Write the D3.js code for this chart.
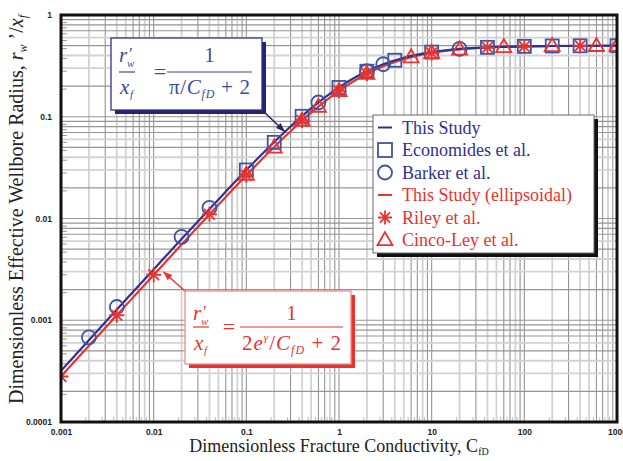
<!DOCTYPE html>
<html>
<head>
<meta charset="utf-8">
<script src="https://cdn.jsdelivr.net/npm/d3@7"></script>
<style>
  body { margin: 0; background: #fff; }
  svg { display: block; }
</style>
</head>
<body>
<svg id="chart"></svg>
<script>
// ---- data ----
const xTicks = [0.001, 0.01, 0.1, 1, 10, 100, 1000];
const yTicks = [0.0001, 0.001, 0.01, 0.1, 1];

// this study curves (sampled along the drawn lines)
const lineC         = [0.001, 0.002, 0.005, 0.01, 0.02, 0.05, 0.1, 0.2, 0.3, 0.5, 0.7, 1, 1.5, 2, 3, 5, 7, 10, 15, 20, 30, 50, 100, 200, 500, 1000];
const thisStudy     = [0.000318, 0.000636, 0.00159, 0.00316, 0.00629, 0.0154, 0.0299, 0.0565, 0.0802, 0.1207, 0.1541, 0.1945, 0.2442, 0.280, 0.3282, 0.3805, 0.4084, 0.4321, 0.4526, 0.4636, 0.4751, 0.4848, 0.4923, 0.4961, 0.4984, 0.4992];
const thisStudyEll  = [0.000281, 0.000561, 0.00140, 0.00279, 0.00555, 0.01365, 0.0266, 0.0505, 0.0721, 0.1096, 0.1411, 0.1798, 0.2286, 0.2645, 0.3137, 0.3687, 0.3986, 0.4244, 0.4469, 0.4591, 0.4720, 0.4828, 0.4912, 0.4956, 0.4982, 0.4991];

const economidesC = [0.1, 0.2, 0.4, 1, 2, 4, 10, 40, 100, 200, 400, 1000];
const economidesR = [0.030, 0.056, 0.101, 0.194, 0.280, 0.359, 0.432, 0.481, 0.492, 0.496, 0.498, 0.499];

const barkerC = [0.002, 0.004, 0.02, 0.04, 0.6, 2, 3, 20];
const barkerR = [0.00068, 0.00135, 0.0066, 0.0127, 0.138, 0.280, 0.328, 0.464];

const rileyC = [0.001, 0.004, 0.01, 0.04, 0.1, 0.4, 1, 2, 10, 40, 100, 400];
const rileyR = [0.00028, 0.00112, 0.0028, 0.011, 0.0266, 0.092, 0.180, 0.265, 0.424, 0.479, 0.491, 0.498];

const cincoC = [0.1, 0.2, 0.4, 0.6, 1, 2, 6, 10, 20, 60, 200, 600, 1000];
const cincoR = [0.027, 0.050, 0.092, 0.126, 0.180, 0.265, 0.386, 0.424, 0.459, 0.486, 0.496, 0.4985, 0.499];

const legendNames = ['This Study', 'Economides et al.', 'Barker et al.', 'This Study (ellipsoidal)', 'Riley et al.', 'Cinco-Ley et al.'];

// ---- layout ----
const W = 623, H = 461;
const margin = {top: 15, right: 6, bottom: 39, left: 61};
const NAVY = '#2e3192', BLUE = '#3a55a6', RED = '#e8332f';
const SERIF = '"Liberation Serif", "Times New Roman", serif';
const SANS = '"Liberation Sans", Arial, sans-serif';

const svg = d3.select('#chart').attr('width', W).attr('height', H);

const x = d3.scaleLog().domain([0.001, 1000]).range([margin.left, W - margin.right]);
const y = d3.scaleLog().domain([0.0001, 1]).range([H - margin.bottom, margin.top]);

// grid (two tones, like the scanned original)
const xDark = [1, 3, 6, 7, 9], yDark = [1, 2, 5, 7, 8, 9];
const grid = svg.append('g');
const xs = [], ys = [];
xTicks.slice(0, -1).forEach(d => d3.range(1, 10).forEach(m => xs.push({v: d * m, m: m})));
yTicks.slice(0, -1).forEach(d => d3.range(1, 10).forEach(m => ys.push({v: d * m, m: m})));

grid.selectAll('.gx').data(xs).join('line')
    .attr('x1', d => x(d.v)).attr('x2', d => x(d.v))
    .attr('y1', y(1)).attr('y2', y(0.0001))
    .attr('stroke', d => xDark.includes(d.m) ? '#959595' : '#d2d2d2')
    .attr('stroke-width', d => xDark.includes(d.m) ? 1.1 : 1.8);

grid.selectAll('.gy').data(ys).join('line')
    .attr('y1', d => y(d.v)).attr('y2', d => y(d.v))
    .attr('x1', x(0.001)).attr('x2', x(1000))
    .attr('stroke', d => yDark.includes(d.m) ? '#959595' : '#d2d2d2')
    .attr('stroke-width', d => yDark.includes(d.m) ? 1.1 : 1.8);

// small inner ticks on left and bottom
grid.selectAll('.ty').data(ys.filter(d => d.m > 1)).join('line')
    .attr('x1', x(0.001)).attr('x2', x(0.001) + 6)
    .attr('y1', d => y(d.v) + 3).attr('y2', d => y(d.v) + 3)
    .attr('stroke', '#999').attr('stroke-width', 1);
grid.selectAll('.tx').data(xs.filter(d => d.m > 1)).join('line')
    .attr('y1', y(0.0001)).attr('y2', y(0.0001) - 5)
    .attr('x1', d => x(d.v) - 3).attr('x2', d => x(d.v) - 3)
    .attr('stroke', '#bbb').attr('stroke-width', 1);

// axes (labels only)
const xAxis = d3.axisBottom(x).tickValues(xTicks).tickFormat(d => String(d)).tickSize(0).tickPadding(7);
const yAxis = d3.axisLeft(y).tickValues(yTicks).tickFormat(d => String(d)).tickSize(0).tickPadding(9);
svg.append('g').attr('transform', `translate(0,${y(0.0001)})`).call(xAxis)
    .call(g => g.select('.domain').remove());
svg.append('g').attr('transform', `translate(${x(0.001)},0)`).call(yAxis)
    .call(g => g.select('.domain').remove());
svg.selectAll('.tick text').attr('font-family', SANS).attr('font-size', 8.5)
    .attr('font-weight', 'bold').attr('fill', '#222');

// clip to plot area
svg.append('clipPath').attr('id', 'clip').append('rect')
    .attr('x', x(0.001)).attr('y', y(1))
    .attr('width', x(1000) - x(0.001)).attr('height', y(0.0001) - y(1));
const plot = svg.append('g').attr('clip-path', 'url(#clip)');

const line = d3.line().x(d => x(d[0])).y(d => y(d[1])).curve(d3.curveMonotoneX);
plot.append('path').datum(d3.zip(lineC, thisStudyEll)).attr('d', line)
    .attr('fill', 'none').attr('stroke', RED).attr('stroke-width', 2.2);
plot.append('path').datum(d3.zip(lineC, thisStudy)).attr('d', line)
    .attr('fill', 'none').attr('stroke', NAVY).attr('stroke-width', 2.2);

// marker shapes
function drawSquare(g, s) { g.append('rect').attr('x', -s / 2).attr('y', -s / 2).attr('width', s).attr('height', s)
    .attr('fill', 'none').attr('stroke', BLUE).attr('stroke-width', 1.8); }
function drawCircle(g, s) { g.append('circle').attr('r', s / 2)
    .attr('fill', 'none').attr('stroke', BLUE).attr('stroke-width', 1.8); }
function drawTriangle(g, s) { const h = s * 0.87;
    g.append('path').attr('d', `M0,${-h * 0.6}L${s / 2},${h * 0.4}L${-s / 2},${h * 0.4}Z`)
    .attr('fill', 'none').attr('stroke', RED).attr('stroke-width', 1.8); }
function drawStar(g, s) { const a = s / 2, b = s * 0.36;
    g.append('path').attr('d', `M${-a},0L${a},0M0,${-a}L0,${a}M${-b},${-b}L${b},${b}M${-b},${b}L${b},${-b}`)
    .attr('fill', 'none').attr('stroke', RED).attr('stroke-width', 1.8); }

function markers(cs, rs, fn, s) {
    plot.append('g').selectAll('g').data(d3.zip(cs, rs)).join('g')
        .attr('transform', d => `translate(${x(d[0])},${y(d[1])})`)
        .each(function () { fn(d3.select(this), s); });
}
markers(economidesC, economidesR, drawSquare, 13);
markers(barkerC, barkerR, drawCircle, 14);
markers(cincoC, cincoR, drawTriangle, 15);
markers(rileyC, rileyR, drawStar, 15);

// frame
svg.append('rect').attr('x', x(0.001)).attr('y', y(1))
    .attr('width', x(1000) - x(0.001)).attr('height', y(0.0001) - y(1))
    .attr('fill', 'none').attr('stroke', '#111').attr('stroke-width', 3);

// legend
const lg = svg.append('g').attr('transform', 'translate(373,115)');
lg.append('rect').attr('x', 4).attr('y', 4).attr('width', 221).attr('height', 138).attr('fill', '#111');
lg.append('rect').attr('width', 221).attr('height', 138).attr('fill', '#fff').attr('stroke', '#666').attr('stroke-width', 1);
const legendDraw = [
    g => g.append('line').attr('x1', -7).attr('x2', 7).attr('stroke', NAVY).attr('stroke-width', 2),
    g => drawSquare(g, 14), g => drawCircle(g, 14),
    g => g.append('line').attr('x1', -7).attr('x2', 7).attr('stroke', RED).attr('stroke-width', 2),
    g => drawStar(g, 14), g => drawTriangle(g, 15)
];
legendNames.forEach((name, i) => {
    const row = lg.append('g').attr('transform', `translate(12,${12.5 + i * 22.5})`);
    legendDraw[i](row);
    row.append('text').attr('x', 17).attr('y', 6).text(name)
        .attr('font-family', SERIF).attr('font-size', 18)
        .attr('fill', i < 3 ? NAVY : RED);
});

// formula boxes
function formulaBox(o) {
    const g = svg.append('g');
    g.append('line').attr('x1', o.from[0]).attr('y1', o.from[1]).attr('x2', o.to[0]).attr('y2', o.to[1])
        .attr('stroke', o.shadow).attr('stroke-width', 1.5);
    const ang = Math.atan2(o.to[1] - o.from[1], o.to[0] - o.from[0]);
    const hl = 9, hw = 3.5;
    const p = [[o.to[0], o.to[1]],
        [o.to[0] - hl * Math.cos(ang) + hw * Math.sin(ang), o.to[1] - hl * Math.sin(ang) - hw * Math.cos(ang)],
        [o.to[0] - hl * Math.cos(ang) - hw * Math.sin(ang), o.to[1] - hl * Math.sin(ang) + hw * Math.cos(ang)]];
    g.append('path').attr('d', d3.line()(p) + 'Z').attr('fill', o.shadow);
    g.append('rect').attr('x', o.box[0] + 4).attr('y', o.box[1] + 4).attr('width', o.box[2]).attr('height', o.box[3]).attr('fill', o.shadow);
    g.append('rect').attr('x', o.box[0]).attr('y', o.box[1]).attr('width', o.box[2]).attr('height', o.box[3])
        .attr('fill', '#fff').attr('stroke', o.border).attr('stroke-width', 1.3);
    const t = (xx, yy, s, size, anchor) => g.append('text').attr('x', xx).attr('y', yy).text(s)
        .attr('font-family', SERIF).attr('font-style', 'italic').attr('font-size', size)
        .attr('fill', o.color).attr('text-anchor', anchor || 'start');
    // left fraction r'_w / x_f
    t(o.lx - 8, o.numY, 'r', 21);
    t(o.lx + 1, o.numY - 3, '\u2032', 17);
    t(o.lx, o.numY + 5, 'w', 11);
    g.append('line').attr('x1', o.lx - 8).attr('x2', o.lx + 8).attr('y1', o.barY).attr('y2', o.barY)
        .attr('stroke', o.color).attr('stroke-width', 1.2);
    t(o.lx - 7, o.denY, 'x', 21);
    t(o.lx + 3, o.denY + 4, 'f', 11);
    t(o.eqX, o.barY + 7, '=', 22, 'middle').attr('font-style', 'normal');
    // right fraction
    t((o.bx0 + o.bx1) / 2, o.numY, '1', 21, 'middle').attr('font-style', 'normal');
    g.append('line').attr('x1', o.bx0).attr('x2', o.bx1).attr('y1', o.barY).attr('y2', o.barY)
        .attr('stroke', o.color).attr('stroke-width', 1.2);
    const den = t((o.bx0 + o.bx1) / 2, o.denY, '', 21, 'middle');
    o.denom(den);
    den.attr('textLength', o.bx1 - o.bx0 - 4).attr('lengthAdjust', 'spacing');
}

formulaBox({
    box: [111, 38, 151, 72], border: NAVY, shadow: '#24246e', color: '#3b4a9e',
    from: [262, 110], to: [x(0.26), y(0.0713)],
    lx: 127, numY: 62, barY: 72, denY: 94, eqX: 160, bx0: 167, bx1: 252,
    denom: d => {
        d.append('tspan').text('\u03c0').attr('font-style', 'normal');
        d.append('tspan').text('/').attr('font-style', 'normal');
        d.append('tspan').text('C');
        d.append('tspan').text('fD').attr('font-size', 12).attr('dy', 4);
        d.append('tspan').text(' + 2').attr('font-style', 'normal').attr('dy', -4);
    }
});

formulaBox({
    box: [185, 291, 166, 73], border: '#f08a88', shadow: RED, color: RED,
    from: [185, 291], to: [x(0.0127), y(0.00300)],
    lx: 201, numY: 320, barY: 327, denY: 350, eqX: 229, bx0: 240, bx1: 343,
    denom: d => {
        d.append('tspan').text('2').attr('font-style', 'normal');
        d.append('tspan').text('e');
        d.append('tspan').text('\u03b3').attr('font-size', 11).attr('dy', -9);
        d.append('tspan').text('/').attr('font-style', 'normal').attr('dy', 9);
        d.append('tspan').text('C');
        d.append('tspan').text('fD').attr('font-size', 12).attr('dy', 4);
        d.append('tspan').text(' + 2').attr('font-style', 'normal').attr('dy', -4);
    }
});

// axis titles
const xl = svg.append('text').attr('x', (x(0.001) + x(1000)) / 2).attr('y', 452)
    .attr('text-anchor', 'middle').attr('font-family', SERIF).attr('font-size', 18).attr('fill', '#222');
xl.append('tspan').text('Dimensionless Fracture Conductivity, C');
xl.append('tspan').text('fD').attr('font-size', 10).attr('dy', 3);

const yl = svg.append('text').attr('transform', `translate(23,${(y(1) + y(0.0001)) / 2 - 9}) rotate(-90)`)
    .attr('text-anchor', 'middle').attr('font-family', SERIF).attr('font-size', 20).attr('fill', '#222');
yl.append('tspan').text('Dimensionless Effective Wellbore Radius, ');
yl.append('tspan').text('r').attr('font-style', 'italic');
yl.append('tspan').text('w').attr('font-style', 'italic').attr('font-size', 12).attr('dy', 4);
yl.append('tspan').text(' \u2019/').attr('dy', -4);
yl.append('tspan').text('x').attr('font-style', 'italic');
yl.append('tspan').text('f').attr('font-style', 'italic').attr('font-size', 12).attr('dy', 4);
</script>
</body>
</html>
